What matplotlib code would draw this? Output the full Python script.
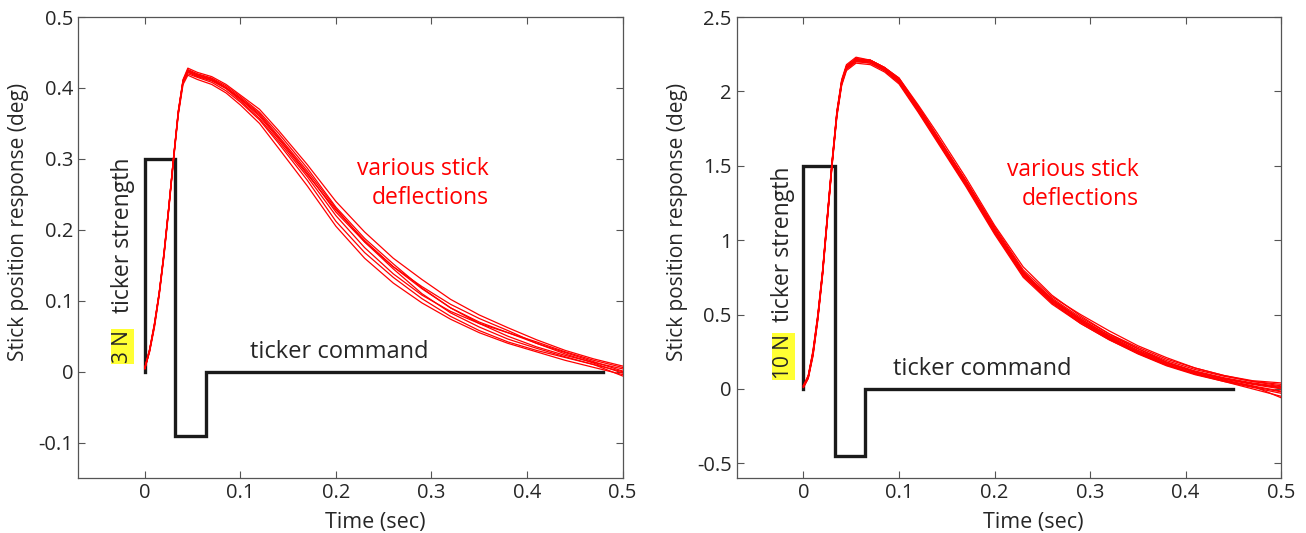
import matplotlib.pyplot as plt
from matplotlib.ticker import FuncFormatter

plt.rcParams['font.family'] = ['Open Sans', 'DejaVu Sans']
plt.rcParams['axes.unicode_minus'] = False

# time grid (sec) shared by all traces
t = [0, .005, .01, .015, .02, .025, .03, .035, .04, .045, .055, .07, .085, .10,
     .12, .14, .17, .20, .23, .26, .29, .32, .35, .38, .41, .44, .47, .50]

# 3 N ticker: stick position responses (deg)
left_L1 = [0.005, 0.03, 0.065, 0.11, 0.165, 0.23, 0.30, 0.365, 0.41, 0.425, 0.418, 0.412, 0.40, 0.385,
           0.362, 0.33, 0.28, 0.225, 0.183, 0.148, 0.117, 0.090, 0.068, 0.050, 0.035, 0.023, 0.013, 0.004]
left_L2 = [0.006, 0.032, 0.068, 0.112, 0.168, 0.232, 0.302, 0.368, 0.412, 0.428, 0.422, 0.416, 0.405, 0.39,
           0.37, 0.34, 0.292, 0.24, 0.197, 0.16, 0.13, 0.102, 0.08, 0.062, 0.045, 0.03, 0.018, 0.008]
left_L3 = [0.004, 0.028, 0.062, 0.107, 0.162, 0.227, 0.297, 0.362, 0.405, 0.418, 0.412, 0.405, 0.393, 0.376,
           0.35, 0.315, 0.262, 0.205, 0.16, 0.125, 0.097, 0.074, 0.055, 0.04, 0.028, 0.016, 0.006, -0.004]
left_L4 = [0.005, 0.031, 0.066, 0.11, 0.166, 0.231, 0.3, 0.366, 0.41, 0.422, 0.416, 0.41, 0.399, 0.382,
           0.357, 0.325, 0.275, 0.22, 0.175, 0.138, 0.108, 0.085, 0.068, 0.055, 0.042, 0.028, 0.016, 0.006]
left_L5 = [0.005, 0.03, 0.064, 0.109, 0.164, 0.229, 0.299, 0.364, 0.408, 0.42, 0.415, 0.408, 0.396, 0.38,
           0.355, 0.322, 0.27, 0.212, 0.168, 0.133, 0.103, 0.078, 0.058, 0.042, 0.03, 0.02, 0.01, 0.0]
left_L6 = [0.006, 0.031, 0.067, 0.111, 0.167, 0.232, 0.301, 0.367, 0.411, 0.426, 0.42, 0.414, 0.403, 0.388,
           0.366, 0.336, 0.287, 0.232, 0.188, 0.152, 0.118, 0.09, 0.07, 0.055, 0.04, 0.027, 0.014, 0.001]
left_L7 = [0.005, 0.029, 0.065, 0.11, 0.165, 0.23, 0.3, 0.365, 0.409, 0.423, 0.417, 0.411, 0.4, 0.384,
           0.36, 0.328, 0.278, 0.228, 0.185, 0.148, 0.12, 0.095, 0.075, 0.058, 0.04, 0.025, 0.012, -0.002]
left_L8 = [0.004, 0.03, 0.066, 0.111, 0.166, 0.231, 0.301, 0.366, 0.41, 0.424, 0.419, 0.413, 0.401, 0.386,
           0.364, 0.332, 0.283, 0.23, 0.183, 0.145, 0.11, 0.083, 0.063, 0.046, 0.033, 0.021, 0.01, -0.006]

# 10 N ticker: stick position responses (deg)
right_R1 = [0.02, 0.08, 0.24, 0.48, 0.78, 1.15, 1.52, 1.85, 2.06, 2.16, 2.21, 2.2, 2.15, 2.07,
            1.88, 1.68, 1.38, 1.06, 0.77, 0.59, 0.46, 0.345, 0.25, 0.17, 0.11, 0.065, 0.03, 0.0]
right_R2 = [0.02, 0.09, 0.26, 0.5, 0.8, 1.17, 1.54, 1.87, 2.08, 2.18, 2.23, 2.21, 2.16, 2.08,
            1.9, 1.7, 1.4, 1.08, 0.79, 0.6, 0.47, 0.36, 0.27, 0.19, 0.13, 0.085, 0.05, 0.03]
right_R3 = [0.01, 0.07, 0.22, 0.46, 0.76, 1.13, 1.5, 1.83, 2.04, 2.14, 2.19, 2.18, 2.13, 2.05,
            1.86, 1.66, 1.36, 1.04, 0.75, 0.57, 0.44, 0.33, 0.235, 0.155, 0.095, 0.05, 0.01, -0.03]
right_R4 = [0.02, 0.08, 0.25, 0.49, 0.79, 1.16, 1.53, 1.86, 2.07, 2.17, 2.22, 2.21, 2.16, 2.09,
            1.91, 1.72, 1.42, 1.1, 0.82, 0.63, 0.49, 0.37, 0.27, 0.18, 0.115, 0.07, 0.035, 0.01]
right_R5 = [0.02, 0.08, 0.23, 0.47, 0.77, 1.14, 1.51, 1.84, 2.05, 2.15, 2.2, 2.19, 2.14, 2.06,
            1.87, 1.67, 1.37, 1.05, 0.76, 0.58, 0.45, 0.34, 0.245, 0.165, 0.1, 0.055, 0.015, -0.02]
right_R6 = [0.02, 0.09, 0.25, 0.49, 0.79, 1.16, 1.53, 1.86, 2.07, 2.17, 2.22, 2.2, 2.14, 2.06,
            1.87, 1.67, 1.37, 1.06, 0.78, 0.61, 0.48, 0.37, 0.28, 0.2, 0.14, 0.09, 0.055, 0.04]
right_R7 = [0.01, 0.07, 0.23, 0.47, 0.77, 1.14, 1.51, 1.84, 2.05, 2.15, 2.2, 2.2, 2.15, 2.07,
            1.89, 1.69, 1.39, 1.07, 0.77, 0.58, 0.44, 0.33, 0.24, 0.16, 0.1, 0.05, 0.0, -0.05]
right_R8 = [0.02, 0.08, 0.24, 0.48, 0.78, 1.15, 1.52, 1.85, 2.06, 2.16, 2.21, 2.2, 2.15, 2.08,
            1.89, 1.69, 1.39, 1.07, 0.78, 0.6, 0.47, 0.355, 0.26, 0.18, 0.12, 0.075, 0.04, 0.015]
right_R9 = [0.02, 0.08, 0.24, 0.48, 0.78, 1.15, 1.52, 1.85, 2.06, 2.17, 2.22, 2.21, 2.16, 2.08,
            1.89, 1.68, 1.38, 1.05, 0.76, 0.58, 0.45, 0.335, 0.24, 0.16, 0.1, 0.055, 0.02, -0.015]
right_R10 = [0.02, 0.08, 0.25, 0.49, 0.79, 1.16, 1.53, 1.86, 2.07, 2.16, 2.21, 2.2, 2.15, 2.07,
             1.88, 1.69, 1.4, 1.09, 0.8, 0.62, 0.5, 0.39, 0.29, 0.21, 0.14, 0.09, 0.05, 0.02]
right_R11 = [0.01, 0.08, 0.24, 0.48, 0.78, 1.15, 1.52, 1.85, 2.06, 2.16, 2.21, 2.19, 2.14, 2.06,
             1.87, 1.67, 1.37, 1.06, 0.78, 0.6, 0.46, 0.34, 0.24, 0.16, 0.105, 0.06, 0.02, -0.06]
right_R12 = [0.02, 0.08, 0.24, 0.48, 0.78, 1.15, 1.52, 1.85, 2.06, 2.16, 2.21, 2.21, 2.16, 2.09,
             1.9, 1.7, 1.4, 1.07, 0.78, 0.59, 0.46, 0.35, 0.255, 0.175, 0.115, 0.07, 0.035, 0.005]

# ticker command pulses
cmd_t_left = [0, 0, 0.032, 0.032, 0.064, 0.064, 0.48]
cmd_left = [0, 0.3, 0.3, -0.09, -0.09, 0, 0]
cmd_t_right = [0, 0, 0.033, 0.033, 0.064, 0.064, 0.45]
cmd_right = [0, 1.5, 1.5, -0.45, -0.45, 0, 0]

left_traces = [left_L1, left_L2, left_L3, left_L4, left_L5, left_L6, left_L7, left_L8]
right_traces = [right_R1, right_R2, right_R3, right_R4, right_R5, right_R6,
                right_R7, right_R8, right_R9, right_R10, right_R11, right_R12]

panels = [
    dict(traces=left_traces, ct=cmd_t_left, cv=cmd_left, ylim=(-0.15, 0.5),
         yticks=[-0.1, 0, 0.1, 0.2, 0.3, 0.4, 0.5], force="3 N",
         defl_xy=(0.36, 0.265), cmd_xy=(0.11, 0.028),
         force_xy=(-0.023, 0.036), strength_xy=(-0.023, 0.192)),
    dict(traces=right_traces, ct=cmd_t_right, cv=cmd_right, ylim=(-0.6, 2.5),
         yticks=[-0.5, 0, 0.5, 1, 1.5, 2, 2.5], force="10 N",
         defl_xy=(0.351, 1.375), cmd_xy=(0.094, 0.134),
         force_xy=(-0.021, 0.215), strength_xy=(-0.021, 0.971)),
]

fig = plt.figure(figsize=(13.06, 5.33), dpi=100)
positions = [[0.0597, 0.103, 0.417, 0.865], [0.564, 0.103, 0.417, 0.865]]

axis_grey = '#555555'
txt = '#262626'

for pos, p in zip(positions, panels):
    ax = fig.add_axes(pos)
    ax.plot(p['ct'], p['cv'], color='#1a1a1a', lw=2.4, zorder=2, solid_joinstyle='miter')
    for tr in p['traces']:
        ax.plot(t, tr, color='#ff0000', lw=0.9, zorder=3)
    ax.set_xlim(-0.07, 0.5)
    ax.set_ylim(*p['ylim'])
    ax.set_xticks([0, 0.1, 0.2, 0.3, 0.4, 0.5])
    ax.set_yticks(p['yticks'])
    ax.xaxis.set_major_formatter(FuncFormatter(lambda v, _: '%g' % round(v, 3)))
    ax.yaxis.set_major_formatter(FuncFormatter(lambda v, _: '%g' % round(v, 3)))
    ax.tick_params(direction='in', top=True, right=True, length=5, width=0.8,
                   color=axis_grey, labelcolor=txt, labelsize=14.5)
    for s in ax.spines.values():
        s.set_color(axis_grey)
        s.set_linewidth(0.9)
    ax.set_xlabel("Time (sec)", fontsize=15.5, color=txt)
    ax.set_ylabel("Stick position response (deg)", fontsize=15, color=txt)
    ax.xaxis.set_label_coords(0.545, -0.074)
    ax.yaxis.set_label_coords(-0.09, 0.555)

    ax.text(*p['defl_xy'], "various stick\ndeflections", color='#ff0000', fontsize=16.5,
            ha='right', va='center', multialignment='right', linespacing=1.25)
    ax.text(*p['cmd_xy'], "ticker command", color=txt, fontsize=17, ha='left', va='center')
    ax.text(*p['force_xy'], p['force'], color=txt, fontsize=15, rotation=90,
            ha='center', va='center',
            bbox=dict(boxstyle='square,pad=0.05', fc='#ffff33', ec='none'))
    ax.text(*p['strength_xy'], "ticker strength", color=txt, fontsize=16.5, rotation=90,
            ha='center', va='center')

fig.savefig("out.png", dpi=100)
